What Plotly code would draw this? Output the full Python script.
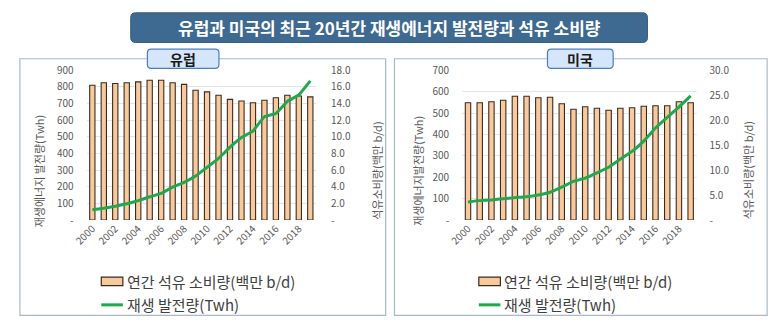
import plotly.graph_objects as go

# ---------------- data ----------------
years = list(range(2000, 2020))
tick_years = list(range(2000, 2019, 2))

eu_oil = [16.2, 16.5, 16.4, 16.5, 16.6, 16.8, 16.8, 16.5, 16.3, 15.6,
          15.4, 15.0, 14.5, 14.3, 14.1, 14.4, 14.7, 15.0, 14.9, 14.8]
eu_ren = [62, 71, 83, 98, 117, 140, 160, 198, 227, 265,
          317, 371, 438, 496, 535, 621, 640, 713, 752, 836]
us_oil = [23.5, 23.5, 23.7, 24.0, 24.8, 24.8, 24.5, 24.6, 23.3, 22.2,
          22.7, 22.4, 22.0, 22.4, 22.5, 22.8, 22.9, 22.9, 23.7, 23.5]
us_ren = [85, 91, 94, 100, 105, 109, 117, 130, 154, 181,
          196, 221, 247, 285, 321, 369, 430, 480, 528, 580]

eu_left_ticks = [0, 100, 200, 300, 400, 500, 600, 700, 800, 900]
eu_right_ticks = [0, 2, 4, 6, 8, 10, 12, 14, 16, 18]
us_left_ticks = [0, 100, 200, 300, 400, 500, 600, 700]
us_right_ticks = [0, 5, 10, 15, 20, 25, 30]

title_text = "유럽과 미국의 최근 20년간 재생에너지 발전량과 석유 소비량"
eu_label = "유럽"
us_label = "미국"
bar_name = "연간 석유 소비량(백만 b/d)"
line_name = "재생 발전량(Twh)"
eu_ytitle_l = "재생에너지 발전량(Twh)"
us_ytitle_l = "재생에너지발전량(Twh)"
ytitle_r = "석유소비량(백만 b/d)"

# ---------------- styling ----------------
W, H = 773, 330
FONT = "Noto Sans CJK KR"
BAR_FILL = "#F8C99C"
BAR_LINE = "#3a2b22"
GREEN = "#22A84C"
TICK_COL = "#595959"
GRID_COL = "#E4E4E4"


def px(x):
    return x / W


def py(y):
    return 1 - y / H


def rrect(x0, y0, x1, y1, r):
    pts = [
        ("M", [(x0 + r, y0)]),
        ("L", [(x1 - r, y0)]),
        ("Q", [(x1, y0), (x1, y0 + r)]),
        ("L", [(x1, y1 - r)]),
        ("Q", [(x1, y1), (x1 - r, y1)]),
        ("L", [(x0 + r, y1)]),
        ("Q", [(x0, y1), (x0, y1 - r)]),
        ("L", [(x0, y0 + r)]),
        ("Q", [(x0, y0), (x0 + r, y0)]),
    ]
    s = ""
    for cmd, ps in pts:
        s += cmd + " " + " ".join(f"{px(a):.5f},{py(b):.5f}" for a, b in ps) + " "
    return s + "Z"


fig = go.Figure()

# Europe
fig.add_trace(go.Bar(x=years, y=eu_oil, xaxis="x", yaxis="y", width=0.46,
                     marker=dict(color=BAR_FILL, line=dict(color=BAR_LINE, width=1.1)),
                     name=bar_name, showlegend=False))
fig.add_trace(go.Scatter(x=years, y=eu_ren, xaxis="x", yaxis="y2", mode="lines",
                         line=dict(color=GREEN, width=3, shape="spline", smoothing=0.3),
                         name=line_name, showlegend=False))
# USA
fig.add_trace(go.Bar(x=years, y=us_oil, xaxis="x2", yaxis="y3", width=0.46,
                     marker=dict(color=BAR_FILL, line=dict(color=BAR_LINE, width=1.1)),
                     name=bar_name, showlegend=False))
fig.add_trace(go.Scatter(x=years, y=us_ren, xaxis="x2", yaxis="y4", mode="lines",
                         line=dict(color=GREEN, width=3, shape="spline", smoothing=0.3),
                         name=line_name, showlegend=False))

tickfont = dict(family=FONT, size=10, color=TICK_COL)
ydom = [py(221.5), py(65)]


def fmt_int(v):
    return "-" if v == 0 else f"{v:d}"


def fmt_f(v):
    return "-" if v == 0 else f"{v:.1f}"


xcommon = dict(range=[1999.5, 2019.5], tickvals=tick_years, ticktext=[str(t) for t in tick_years],
               tickangle=-45, tickfont=tickfont, showgrid=False, zeroline=False,
               showline=False, ticks="", fixedrange=True)

fig.update_layout(
    width=W, height=H, autosize=False,
    margin=dict(l=0, r=0, t=0, b=0),
    paper_bgcolor="white", plot_bgcolor="rgba(0,0,0,0)",
    bargap=0.5,
    xaxis=dict(domain=[px(73), px(307)], anchor="y", **xcommon),
    xaxis2=dict(domain=[px(456), px(695)], anchor="y3", **xcommon),
    yaxis=dict(domain=ydom, anchor="x", side="right", range=[0, 18],
               tickvals=eu_right_ticks, ticktext=[fmt_f(v) for v in eu_right_ticks],
               tickfont=tickfont, showgrid=False, zeroline=False, ticklabelstandoff=14),
    yaxis2=dict(overlaying="y", anchor="x", side="left", range=[0, 900],
                tickvals=eu_left_ticks, ticktext=[fmt_int(v) for v in eu_left_ticks],
                tickfont=tickfont, showgrid=True, gridcolor=GRID_COL, gridwidth=1,
                zeroline=False, ticklabelstandoff=12),
    yaxis3=dict(domain=ydom, anchor="x2", side="right", range=[0, 30],
                tickvals=us_right_ticks, ticktext=[fmt_f(v) for v in us_right_ticks],
                tickfont=tickfont, showgrid=False, zeroline=False, ticklabelstandoff=12),
    yaxis4=dict(overlaying="y3", anchor="x2", side="left", range=[0, 700],
                tickvals=us_left_ticks, ticktext=[fmt_int(v) for v in us_left_ticks],
                tickfont=tickfont, showgrid=True, gridcolor=GRID_COL, gridwidth=1,
                zeroline=False, ticklabelstandoff=12),
)

shapes = []
annots = []

# panel frames
for (x0, x1) in [(5, 378), (387, 767)]:
    shapes.append(dict(type="rect", xref="paper", yref="paper", x0=px(x0), x1=px(x1),
                       y0=py(321), y1=py(53), line=dict(color="#A9B9CB", width=1.2),
                       fillcolor="rgba(0,0,0,0)", layer="below"))

# title box
shapes.append(dict(type="path", xref="paper", yref="paper", path=rrect(118, 5, 645, 36, 5),
                   fillcolor="#3E6991", line=dict(color="#365d83", width=1)))
annots.append(dict(text=f"<b>{title_text}</b>", x=px(381.5), y=py(20.5), xref="paper", yref="paper",
                   showarrow=False, font=dict(family=FONT, size=17, color="white"),
                   xanchor="center", yanchor="middle"))

# panel labels
for (x0, x1, lab) in [(135, 208, eu_label), (543, 610, us_label)]:
    shapes.append(dict(type="path", xref="paper", yref="paper", path=rrect(x0, 43, x1, 63, 4),
                       fillcolor="#D6E6FA", line=dict(color="#4A7EC2", width=1.2)))
    annots.append(dict(text=f"<b>{lab}</b>", x=px((x0 + x1) / 2), y=py(53), xref="paper", yref="paper",
                       showarrow=False, font=dict(family=FONT, size=14, color="#1a1a1a"),
                       xanchor="center", yanchor="middle"))

# axis titles
for (x, t) in [(24, eu_ytitle_l), (369, ytitle_r), (411, us_ytitle_l), (747, ytitle_r)]:
    annots.append(dict(text=t, x=px(x), y=py(170), xref="paper", yref="paper", showarrow=False,
                       textangle=-90, font=dict(family=FONT, size=11, color=TICK_COL),
                       xanchor="center", yanchor="middle"))

# legends
for lx in [88, 473]:
    shapes.append(dict(type="rect", xref="paper", yref="paper", x0=px(lx), x1=px(lx + 22),
                       y0=py(290), y1=py(281), fillcolor=BAR_FILL,
                       line=dict(color=BAR_LINE, width=1.2)))
    annots.append(dict(text=bar_name, x=px(lx + 24), y=py(285.5), xref="paper", yref="paper",
                       showarrow=False, font=dict(family=FONT, size=15, color="#404040"),
                       xanchor="left", yanchor="middle"))
    shapes.append(dict(type="line", xref="paper", yref="paper", x0=px(lx), x1=px(lx + 22),
                       y0=py(310), y1=py(310), line=dict(color=GREEN, width=3)))
    annots.append(dict(text=line_name, x=px(lx + 24), y=py(310), xref="paper", yref="paper",
                       showarrow=False, font=dict(family=FONT, size=15, color="#404040"),
                       xanchor="left", yanchor="middle"))

fig.update_layout(shapes=shapes, annotations=annots)
fig.write_html("out.html")
